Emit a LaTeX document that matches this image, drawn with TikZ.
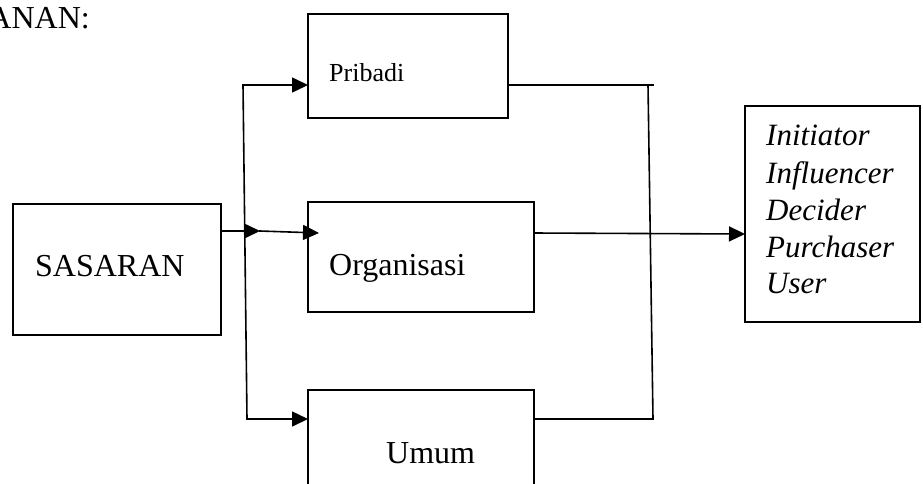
\documentclass[tikz,border=0pt]{standalone}
\usepackage{fontspec}
\setmainfont{Liberation Serif}
\usetikzlibrary{arrows.meta}
\begin{document}
\begin{tikzpicture}[x=1pt,y=-1pt,
  ln/.style={line width=1.6pt, line cap=rect},
  arr/.style={ln, -{Triangle[length=16pt,width=15pt]}},
  box/.style={draw, line width=1.6pt, inner sep=0pt, outer sep=0pt, anchor=north west},
  txt/.style={inner sep=0pt, anchor=base west},
  fa/.style={font=\fontsize{32}{38}\selectfont},
  fb/.style={font=\fontsize{26}{31}\selectfont},
  fc/.style={font=\fontsize{31}{37}\selectfont\itshape}]
\useasboundingbox (0,0) rectangle (923,483);
\clip (0,0) rectangle (923,483);
% boxes
\node[box, minimum width=208pt, minimum height=131pt] (sas) at (13,204) {};
\node[box, minimum width=200pt, minimum height=104pt] (pri) at (308,14) {};
\node[box, minimum width=226pt, minimum height=110pt] (org) at (308,202) {};
\node[box, minimum width=226pt, minimum height=110pt] (umu) at (308,390) {};
\node[box, minimum width=175pt, minimum height=216pt] (res) at (745,106) {};
% texts
\node[txt, fa, anchor=base east] (hdr) at (90,28) {ANAN:};
\node[txt, fa] (tsas) at (35,276) {SASARAN};
\node[txt, fb] (tpri) at (329,81) {Pribadi};
\node[txt, fa] (torg) at (329,275) {Organisasi};
\node[txt, fa] (tumu) at (386,463) {Umum};
\node[txt, fc] (r1) at (766,145) {Initiator};
\node[txt, fc] (r2) at (766,183) {Influencer};
\node[txt, fc] (r3) at (766,220) {Decider};
\node[txt, fc] (r4) at (766,257) {Purchaser};
\node[txt, fc] (r5) at (766,293) {User};
% connector points
\coordinate (lt) at (243,85);
\coordinate (lb) at (247,419);
\coordinate (lm) at (260,231);
\coordinate (rt) at (648,85);
\coordinate (re) at (653,85);
\coordinate (rb) at (653,419);
% left fan-out
\draw[ln] (lt) -- (lb);
\draw[arr] (lt) -- (pri.west |- lt);
\draw[arr] (lb) -- (umu.west |- lb);
\draw[arr] (sas.east |- lm) -- (lm);
\draw[arr] (lm) -- (319,233);
% right fan-in
\draw[ln] (pri.east |- re) -- (re);
\draw[ln] (rt) -- (rb);
\draw[ln] (umu.east |- rb) -- (rb);
\draw[arr] (534,233) -- (res.west |- 0,234);
\end{tikzpicture}
\end{document}
